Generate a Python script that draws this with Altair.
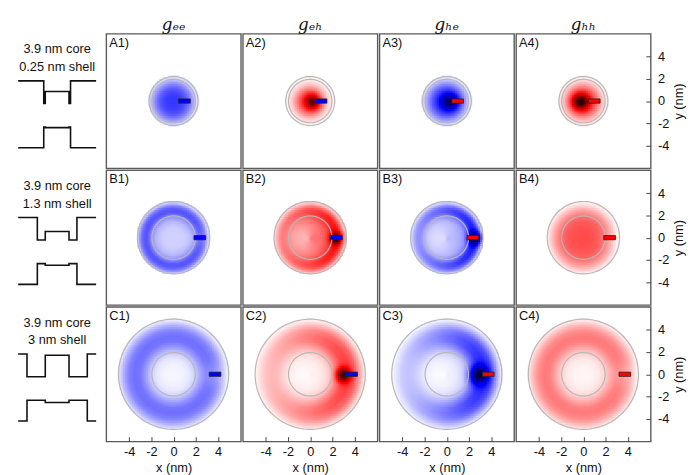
import numpy as np
import pandas as pd
import altair as alt

alt.data_transformers.disable_max_rows()

# ---------------- data ----------------
rows = ["A", "B", "C"]
cols = ["1", "2", "3", "4"]
col_titles = ["gₑₑ", "gₑₕ", "gₕₑ", "gₕₕ"]
core_diam = 3.9
shell_thick = [0.25, 1.3, 3.0]
row_text1 = ["3.9 nm core", "3.9 nm core", "3.9 nm core"]
row_text2 = ["0.25 nm shell", "1.3 nm shell", "3 nm shell"]

density_colors = ["#0000ff", "#ff0000", "#0000ff", "#ff0000"]
marker_colors = ["#0000ff", "#0000ff", "#ff0000", "#ff0000"]

# schematic band edges (relative levels): [barrier, shell, core]
top_levels = [[1.0, 0.0, 0.53], [1.0, 0.0, 0.38], [1.0, 0.0, 0.95]]
bot_levels = [[0.0, 1.0, 0.97], [0.0, 1.0, 0.92], [0.0, 1.0, 0.89]]

# fixed-particle marker (nm)
marker_x0 = [0.45, 1.83, 3.2]
marker_len = 1.05
marker_half_h = 0.19

# radial density profiles (nodes in nm) per row, values per panel
radial_r = [
    [0, 0.4, 0.8, 1.2, 1.6, 1.95, 2.2],
    [0, 0.5, 1.0, 1.5, 1.95, 2.3, 2.6, 2.9, 3.25],
    [0, 0.5, 1.0, 1.5, 1.95, 2.5, 3.0, 3.5, 4.0, 4.5, 4.95],
]
radial_v = {
    "A1": [0.39, 0.39, 0.37, 0.32, 0.23, 0.13, 0.05],
    "A2": [0.50, 0.45, 0.35, 0.22, 0.10, 0.04, 0.01],
    "A3": [0.50, 0.47, 0.41, 0.33, 0.22, 0.12, 0.04],
    "A4": [0.62, 0.54, 0.41, 0.28, 0.16, 0.07, 0.02],
    "B1": [0.09, 0.09, 0.10, 0.14, 0.22, 0.33, 0.33, 0.25, 0.06],
    "B2": [0.21, 0.21, 0.22, 0.26, 0.32, 0.37, 0.35, 0.24, 0.06],
    "B3": [0.10, 0.10, 0.11, 0.14, 0.22, 0.33, 0.33, 0.24, 0.05],
    "B4": [0.35, 0.35, 0.34, 0.32, 0.28, 0.22, 0.16, 0.09, 0.02],
    "C1": [0.02, 0.02, 0.03, 0.05, 0.10, 0.20, 0.27, 0.28, 0.24, 0.14, 0.03],
    "C2": [0.02, 0.02, 0.03, 0.05, 0.09, 0.18, 0.25, 0.26, 0.22, 0.12, 0.02],
    "C3": [0.02, 0.02, 0.03, 0.05, 0.09, 0.19, 0.26, 0.27, 0.23, 0.12, 0.02],
    "C4": [0.02, 0.02, 0.03, 0.05, 0.09, 0.18, 0.25, 0.26, 0.22, 0.13, 0.03],
}
# left/right asymmetry towards the fixed particle
asym = {"A1": 0, "A2": 0, "A3": 0, "A4": 0,
        "B1": 0, "B2": 0.30, "B3": 0.35, "B4": 0,
        "C1": 0, "C2": 0.46, "C3": 0.57, "C4": 0}
# correlation peak / hole: amplitude, x (nm), width (nm)
peak_amp = {"A1": 0.0, "A2": 0.35, "A3": 0.35, "A4": 0.38,
            "B1": -0.05, "B2": 0.55, "B3": 0.50, "B4": -0.04,
            "C1": -0.06, "C2": 0.55, "C3": 0.50, "C4": -0.06}
peak_x = {"A1": 0.0, "A2": 0.3, "A3": 0.35, "A4": -0.3,
          "B1": 2.4, "B2": 2.35, "B3": 2.55, "B4": 2.4,
          "C1": 3.7, "C2": 3.0, "C3": 2.85, "C4": 3.7}
peak_w = {"A1": 1.0, "A2": 0.45, "A3": 0.5, "A4": 0.5,
          "B1": 0.7, "B2": 0.35, "B3": 0.4, "B4": 0.7,
          "C1": 0.8, "C2": 0.45, "C3": 0.58, "C4": 0.8}

tick_vals = [-4, -2, 0, 2, 4]

# ---------------- chart construction ----------------
FONT = "Liberation Sans"
PW = 137
PH = 137
STEP = 0.16
HALF = STEP * 0.85

grid = np.round(np.arange(-6.0, 6.0 + 1e-9, STEP), 4)
GX, GY = np.meshgrid(grid, grid)
Rc = core_diam / 2


def panel_cells(ri, ci):
    key = rows[ri] + cols[ci]
    R = Rc + shell_thick[ri]
    r = np.hypot(GX, GY)
    th = np.arctan2(GY, GX)
    v = np.interp(r, radial_r[ri], radial_v[key]) * (1 + asym[key] * np.cos(th))
    v = v + peak_amp[key] * np.exp(-((GX - peak_x[key]) ** 2 + GY ** 2) / (2 * peak_w[key] ** 2))
    m = r <= R
    return pd.DataFrame({"x": GX[m], "y": GY[m], "v": np.clip(v[m], 0, 1).round(3)})


xscale = alt.Scale(domain=[-6.05, 6.05], nice=False, zero=False)
yscale = alt.Scale(domain=[-6.05, 6.05], nice=False, zero=False)

xaxis_bottom = alt.Axis(values=tick_vals, title="x (nm)", grid=False, domain=False,
                        tickSize=5, tickColor="#444", tickWidth=1, offset=-5,
                        labelPadding=4, labelFontSize=13, labelColor="#111", labelFont=FONT,
                        titleFontSize=13, titleFontWeight="normal", titleColor="#111",
                        titleFont=FONT, titlePadding=3,
                        labelExpr="replace(datum.label, '\u2212', '-')")
yaxis_right = alt.Axis(orient="right", values=tick_vals, title="y (nm)", grid=False,
                       domain=False, tickSize=5, tickColor="#444", tickWidth=1, offset=-5,
                       labelPadding=7, labelFontSize=13,
                       labelColor="#111", labelFont=FONT,
                       titleFontSize=13, titleFontWeight="normal", titleColor="#111",
                       titleFont=FONT, titleAngle=270, titleBaseline="top", titlePadding=4,
                       labelExpr="replace(datum.label, '\u2212', '-')")

title_style = dict(fontSize=17, font="DejaVu Serif", fontStyle="italic",
                   fontWeight="normal", color="#111", offset=0, anchor="middle")


def panel(ri, ci):
    key = rows[ri] + cols[ci]
    xa = xaxis_bottom if ri == 2 else None
    ya = yaxis_right if ci == 3 else None

    def X(f):
        return alt.X(f, scale=xscale, axis=xa)

    def Y(f):
        return alt.Y(f, scale=yscale, axis=ya)

    heat = alt.Chart(panel_cells(ri, ci)).transform_calculate(
        x1=f"datum.x - {HALF}", x2=f"datum.x + {HALF}",
        y1=f"datum.y - {HALF}", y2=f"datum.y + {HALF}",
    ).mark_rect(strokeWidth=0).encode(
        x=X("x1:Q"), x2="x2:Q", y=Y("y1:Q"), y2="y2:Q",
        color=alt.Color("v:Q", legend=None,
                        scale=alt.Scale(domain=[0, 0.5, 1],
                                        range=["#ffffff", density_colors[ci], "#000000"],
                                        interpolate="rgb")),
    )

    R = Rc + shell_thick[ri]
    ang = np.deg2rad(np.arange(0, 361, 4))
    recs = []
    for k, rad in enumerate([Rc, R]):
        for j, a in enumerate(ang):
            recs.append({"ring": k, "i": j, "cx": rad * np.cos(a), "cy": rad * np.sin(a)})
    circ = alt.Chart(pd.DataFrame(recs)).mark_line(color="#b8b8b8", strokeWidth=1.2).encode(
        x=X("cx:Q"), y=Y("cy:Q"), detail="ring:N", order="i:Q")

    mk_df = pd.DataFrame({"x0": [marker_x0[ri]], "x1": [marker_x0[ri] + marker_len],
                          "y0": [-marker_half_h], "y1": [marker_half_h]})
    mk = alt.Chart(mk_df).mark_rect(fill=marker_colors[ci], stroke="#222", strokeWidth=0.8).encode(
        x=X("x0:Q"), x2="x1:Q", y=Y("y0:Q"), y2="y1:Q")

    lab = alt.Chart(pd.DataFrame({"t": [key + ")"]})).mark_text(
        align="left", baseline="top", fontSize=13, font=FONT, color="#111"
    ).encode(x=alt.value(3), y=alt.value(3), text="t:N")

    props = dict(width=PW, height=PH)
    if ri == 0:
        props["title"] = alt.TitleParams(text=col_titles[ci], **title_style)
    return alt.layer(heat, circ, mk, lab).properties(**props)


def profile(ri):
    Ro = Rc + shell_thick[ri]
    L = 6.4
    xs = [-L, -Ro, -Ro, -Rc, -Rc, Rc, Rc, Ro, Ro, L]
    recs = []
    for name, lv, base, amp in [("top", top_levels[ri], 4.82, 1.68),
                                ("bot", bot_levels[ri], 1.53, 1.54)]:
        outer, sh, co = lv
        ls = [outer, outer, sh, sh, co, co, sh, sh, outer, outer]
        for j, (xv, l) in enumerate(zip(xs, ls)):
            recs.append({"line": name, "i": j, "px": xv, "py": base + amp * l})
    lines = alt.Chart(pd.DataFrame(recs)).mark_line(color="#111", strokeWidth=1.6).encode(
        x=alt.X("px:Q", scale=alt.Scale(domain=[-7.1, 7.1], nice=False, zero=False), axis=None),
        y=alt.Y("py:Q", scale=alt.Scale(domain=[0, 10], nice=False, zero=False), axis=None),
        detail="line:N", order="i:Q")
    t1 = alt.Chart(pd.DataFrame({"t": [row_text1[ri]]})).mark_text(
        align="center", baseline="middle", fontSize=13, font=FONT, color="#111"
    ).encode(x=alt.value(44), y=alt.value(16), text="t:N")
    t2 = alt.Chart(pd.DataFrame({"t": [row_text2[ri]]})).mark_text(
        align="center", baseline="middle", fontSize=13, font=FONT, color="#111"
    ).encode(x=alt.value(44), y=alt.value(34), text="t:N")
    props = dict(width=88, height=PH, view=alt.ViewBackground(stroke="transparent"))
    if ri == 0:
        props["title"] = alt.TitleParams(text=" ", **title_style)
    return alt.layer(lines, t1, t2).properties(**props)


row_charts = []
for ri in range(3):
    inner = alt.hconcat(*[panel(ri, ci) for ci in range(4)], spacing=0).resolve_scale(color="independent")
    row_charts.append(alt.hconcat(profile(ri), inner, spacing=4).resolve_scale(color="independent"))

chart = alt.vconcat(*row_charts, spacing=0).resolve_scale(color="independent").properties(
    padding={"left": 5, "top": 3, "right": 5, "bottom": 5}
).configure(
    font=FONT, background="white"
).configure_view(stroke="#5a5a5a", strokeWidth=1.4)

chart.save("out.html", embed_options={"renderer": "svg", "actions": False})
